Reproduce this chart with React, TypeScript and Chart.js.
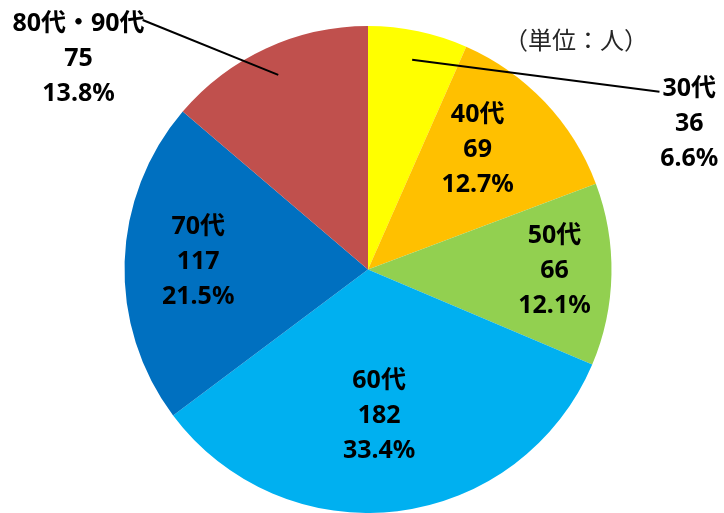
import React, { useEffect, useRef } from "react";
import { Chart, registerables } from "chart.js";

Chart.register(...registerables);

const categories = ["30代", "40代", "50代", "60代", "70代", "80代・90代"];
const counts = [36, 69, 66, 182, 117, 75];
const colors = ["#FFFF00", "#FFC000", "#92D050", "#00B0F0", "#0070C0", "#C0504D"];
const unitLabel = "（単位：人）";

// label placement: [radius factor, angle offset from slice middle (deg), outside?]
const labelPlacement: [number, number, boolean][] = [
  [1.449, 53.7, true],
  [0.667, -4.1, false],
  [0.766, -0.6, false],
  [0.604, 2.6, false],
  [0.698, 0.8, false],
  [1.47, -29.2, true],
];

const LABEL_FONT = "bold 25px 'Noto Sans', 'Noto Sans CJK JP', sans-serif";
const LINE_H = 35;

const labelPlugin = {
  id: "sliceLabels",
  afterDatasetsDraw(chart: any) {
    const ctx = chart.ctx as CanvasRenderingContext2D;
    const meta = chart.getDatasetMeta(0);
    const values: number[] = chart.data.datasets[0].data;
    const total = values.reduce((a, b) => a + b, 0);
    ctx.save();
    ctx.font = LABEL_FONT;
    ctx.fillStyle = "#000";
    ctx.textAlign = "center";
    ctx.textBaseline = "middle";
    meta.data.forEach((arc: any, i: number) => {
      const mid = (arc.startAngle + arc.endAngle) / 2;
      const [f, dDeg, outside] = labelPlacement[i];
      const a = mid + (dDeg * Math.PI) / 180;
      const cx = arc.x + Math.cos(a) * arc.outerRadius * f;
      const cy = arc.y + Math.sin(a) * arc.outerRadius * f;
      const lines = [
        String(chart.data.labels[i]),
        String(values[i]),
        ((values[i] / total) * 100).toFixed(1) + "%",
      ];
      if (outside) {
        const w = ctx.measureText(lines[0]).width;
        const sx = arc.x + Math.cos(mid) * arc.outerRadius * 0.88;
        const sy = arc.y + Math.sin(mid) * arc.outerRadius * 0.88;
        const right = cx > arc.x;
        const ex = right ? cx - w / 2 - 3 : cx + w / 2 - 2;
        const ey = right ? cy - LINE_H + 3 : cy - LINE_H - 4;
        ctx.beginPath();
        ctx.strokeStyle = "#000";
        ctx.lineWidth = 2;
        ctx.moveTo(sx, sy);
        ctx.lineTo(ex, ey);
        ctx.stroke();
      }
      lines.forEach((t, k) => {
        ctx.fillText(t, cx, cy + (k - 1) * LINE_H);
      });
    });
    ctx.font = "24px 'Noto Sans CJK JP', sans-serif";
    ctx.fillStyle = "#262626";
    ctx.fillText(unitLabel, 576, 40);
    ctx.restore();
  },
};

export default function App() {
  const ref = useRef<HTMLCanvasElement>(null);
  useEffect(() => {
    if (!ref.current) return;
    const chart = new Chart(ref.current, {
      type: "pie",
      data: {
        labels: categories,
        datasets: [
          {
            data: counts,
            backgroundColor: colors,
            borderWidth: 0,
          },
        ],
      },
      options: {
        responsive: false,
        animation: false,
        layout: { padding: { top: 26, bottom: 0, left: 12, right: 0 } },
        plugins: {
          legend: { display: false },
          tooltip: { enabled: false },
        },
      },
      plugins: [labelPlugin],
    });
    return () => chart.destroy();
  }, []);
  return (
    <div style={{ position: "absolute", left: 0, top: 0, width: 724, height: 513, background: "#fff" }}>
      <canvas ref={ref} width={724} height={513} style={{ display: "block" }} />
    </div>
  );
}
